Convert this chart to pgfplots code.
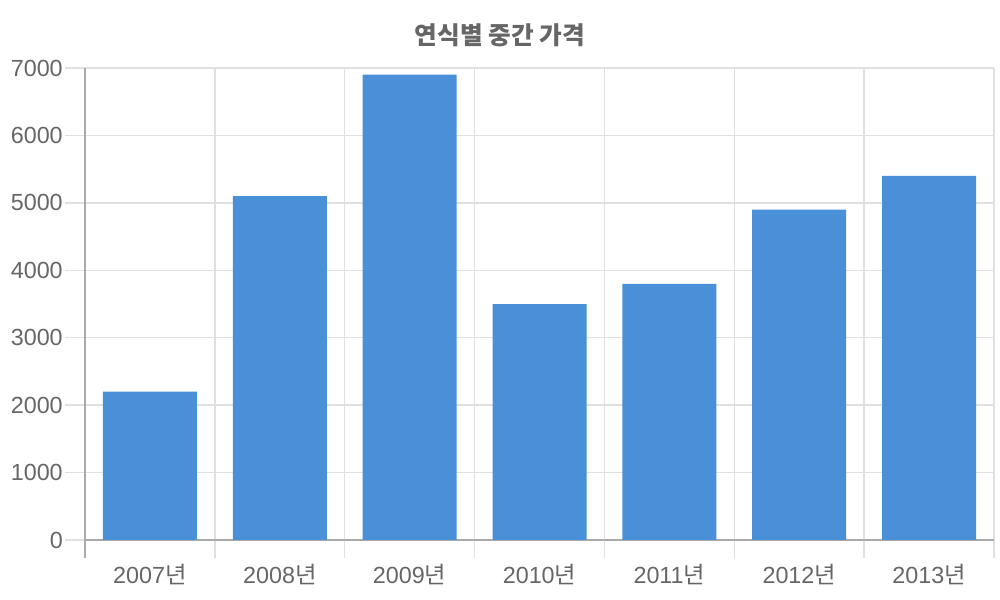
\documentclass[border=0pt]{standalone}
\usepackage{pgfplots}
\pgfplotsset{compat=1.18}
\usepackage{fontspec}
\setmainfont{Liberation Sans}
\newfontfamily\cjk{Noto Sans CJK KR}
\definecolor{barblue}{HTML}{4A90D9}
\definecolor{textgray}{HTML}{666666}
\definecolor{gridgray}{HTML}{E0E0E0}
\definecolor{axisgray}{HTML}{AAAAAA}
\begin{document}
\begin{tikzpicture}
% 1 px = 0.75 pt, page 1000 x 600 px
\useasboundingbox (-63.75pt,-45pt) rectangle (686.25pt,405pt);
\begin{axis}[
  at={(0,0)}, anchor=south west,
  scale only axis,
  width=681.75pt, height=354pt,
  xmin=-0.5, xmax=6.5,
  ymin=0, ymax=7000,
  ybar, bar width=70.5pt,
  xtick={0,...,6},
  xticklabels={2007{\cjk 년},2008{\cjk 년},2009{\cjk 년},2010{\cjk 년},2011{\cjk 년},2012{\cjk 년},2013{\cjk 년}},
  minor xtick={0.5,1.5,...,6.5},
  extra x ticks={-0.5},
  extra x tick labels={},
  extra x tick style={major tick length=13.5pt, major x tick style={draw=axisgray, line width=1.2pt}, grid=none},
  ytick={0,1000,...,7000},
  ymajorgrids, xminorgrids,
  grid style={draw=gridgray, line width=1pt},
  axis x line*=bottom, axis y line*=left,
  axis line style={draw=axisgray, line width=1.2pt, -},
  tick align=outside,
  major tick length=15pt, minor tick length=13.5pt,
  tick style={draw=gridgray, line width=1pt},
  major x tick style={draw=none},
  ticklabel style={font=\fontsize{17.5}{20}\selectfont, text=textgray},
  yticklabel style={inner sep=1.5pt},
  scaled y ticks=false,
  /pgf/number format/1000 sep={},
  /pgf/number format/assume math mode=true,
]
\addplot[fill=barblue, draw=none] coordinates {
  (0,2200) (1,5100) (2,6900) (3,3500) (4,3800) (5,4900) (6,5400)
};
\end{axis}
\node[font=\cjk\bfseries\fontsize{18.5}{22}\selectfont, text=textgray] at (311.25pt,378.75pt) {연식별 중간 가격};
\end{tikzpicture}
\end{document}
